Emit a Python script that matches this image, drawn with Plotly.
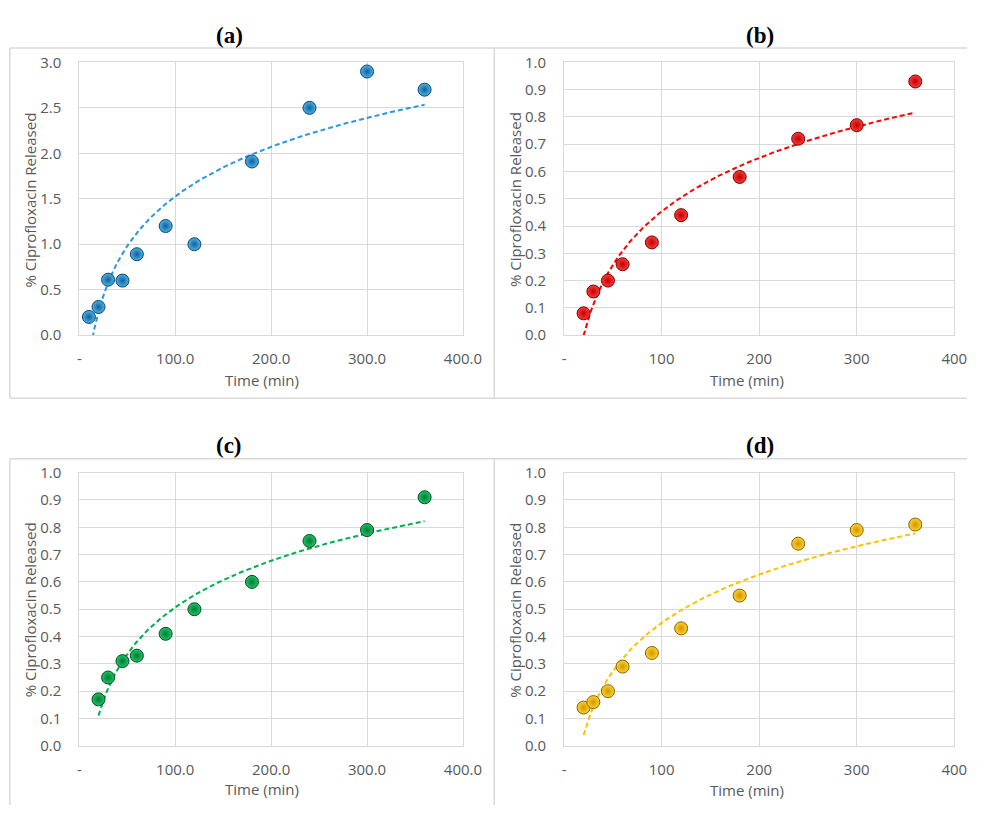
import numpy as np
import plotly.graph_objects as go

# ---------------- data ----------------
time_a = [10, 20, 30, 45, 60, 90, 120, 180, 240, 300, 360]
release_a = [0.20, 0.31, 0.61, 0.60, 0.89, 1.20, 1.00, 1.91, 2.50, 2.90, 2.70]

time_b = [20, 30, 45, 60, 90, 120, 180, 240, 300, 360]
release_b = [0.08, 0.16, 0.20, 0.26, 0.34, 0.44, 0.58, 0.72, 0.77, 0.93]

time_c = [20, 30, 45, 60, 90, 120, 180, 240, 300, 360]
release_c = [0.17, 0.25, 0.31, 0.33, 0.41, 0.50, 0.60, 0.75, 0.79, 0.91]

time_d = [20, 30, 45, 60, 90, 120, 180, 240, 300, 360]
release_d = [0.14, 0.16, 0.20, 0.29, 0.34, 0.43, 0.55, 0.74, 0.79, 0.81]

panel_titles = ["(a)", "(b)", "(c)", "(d)"]
x_tickvals = [0, 100, 200, 300, 400]
x_ticktext_decimal = ["-", "100.0", "200.0", "300.0", "400.0"]
x_ticktext_int = ["-", "100", "200", "300", "400"]
x_title = "Time (min)"
y_title = "% Ciprofloxacin Released"

# ---------------- layout helpers ----------------
W, H = 986, 814


def px_x(v):
    return v / W


def px_y(v):
    return 1 - v / H


FONT = "Open Sans"
GRAY_TXT = "#595959"
GRID = "#d9d9d9"

panels = [
    dict(x=time_a, y=release_a, ymax=3.0, dy=0.5, xt=x_ticktext_decimal,
         dom_x=(79, 471), dom_y=(52.7, 332.3),
         mcol="#4cb2ea", mgrad="#125f96", mline="#0b4670", lcol="#2b98d8",
         title_pos=(232, 25), xt_pos=(266, 378), yt_pos=(29, 194)),
    dict(x=time_b, y=release_b, ymax=1.0, dy=0.1, xt=x_ticktext_int,
         dom_x=(574.3, 973), dom_y=(52.7, 332.3),
         mcol="#ff3a3a", mgrad="#c00000", mline="#7a0000", lcol="#ff0000",
         title_pos=(774, 25), xt_pos=(761, 378), yt_pos=(524, 193)),
    dict(x=time_c, y=release_c, ymax=1.0, dy=0.1, xt=x_ticktext_decimal,
         dom_x=(79, 471), dom_y=(473.3, 753.3),
         mcol="#22c466", mgrad="#007a36", mline="#004d22", lcol="#00b050",
         title_pos=(232, 445), xt_pos=(266, 798), yt_pos=(29, 614)),
    dict(x=time_d, y=release_d, ymax=1.0, dy=0.1, xt=x_ticktext_int,
         dom_x=(574.3, 973), dom_y=(473.3, 753.3),
         mcol="#ffd230", mgrad="#d09600", mline="#8a6300", lcol="#ffc000",
         title_pos=(774, 445), xt_pos=(761, 799), yt_pos=(524, 614)),
]

fig = go.Figure()
annotations = []
layout_axes = {}

for i, p in enumerate(panels):
    n = "" if i == 0 else str(i + 1)
    xa, ya = "x" + n, "y" + n
    # logarithmic trendline (least squares on ln x), as drawn by the spreadsheet
    xs = np.array(p["x"], dtype=float)
    ys = np.array(p["y"], dtype=float)
    slope, intercept = np.polyfit(np.log(xs), ys, 1)
    xt = np.linspace(xs.min(), xs.max(), 300)
    yt = slope * np.log(xt) + intercept
    fig.add_trace(go.Scatter(
        x=xt, y=yt, mode="lines", xaxis=xa, yaxis=ya, showlegend=False,
        line=dict(color=p["lcol"], width=2, dash="5px,3px"), hoverinfo="skip"))
    fig.add_trace(go.Scatter(
        x=p["x"], y=p["y"], mode="markers", xaxis=xa, yaxis=ya, showlegend=False,
        marker=dict(size=13, color=p["mcol"],
                    gradient=dict(type="radial", color=p["mgrad"]),
                    line=dict(color=p["mline"], width=1))))

    layout_axes["xaxis" + n] = dict(
        domain=[px_x(p["dom_x"][0]), px_x(p["dom_x"][1])],
        anchor=ya, range=[0, 400], tickvals=x_tickvals, ticktext=p["xt"],
        showgrid=True, gridcolor=GRID, gridwidth=1, zeroline=False,
        showline=True, linecolor=GRID, linewidth=1, mirror=True,
        tickfont=dict(family=FONT, size=15, color=GRAY_TXT),
        ticks="", ticklabelstandoff=10, fixedrange=True)
    layout_axes["yaxis" + n] = dict(
        domain=[px_y(p["dom_y"][1]), px_y(p["dom_y"][0])],
        anchor=xa, range=[0, p["ymax"]], dtick=p["dy"], tick0=0, tickformat=".1f",
        showgrid=True, gridcolor=GRID, gridwidth=1, zeroline=False,
        showline=True, linecolor=GRID, linewidth=1, mirror=True,
        tickfont=dict(family=FONT, size=15, color=GRAY_TXT),
        ticks="", ticklabelstandoff=14, fixedrange=True)

    annotations.append(dict(
        text="<b>" + panel_titles[i] + "</b>", xref="paper", yref="paper",
        x=px_x(p["title_pos"][0]), y=px_y(p["title_pos"][1]),
        xanchor="center", yanchor="middle", showarrow=False,
        font=dict(family="Liberation Serif", size=23, color="#000000")))
    annotations.append(dict(
        text=x_title, xref="paper", yref="paper",
        x=px_x(p["xt_pos"][0]), y=px_y(p["xt_pos"][1]),
        xanchor="center", yanchor="middle", showarrow=False,
        font=dict(family=FONT, size=15, color=GRAY_TXT)))
    annotations.append(dict(
        text=y_title, xref="paper", yref="paper", textangle=-90,
        x=px_x(p["yt_pos"][0]), y=px_y(p["yt_pos"][1]),
        xanchor="center", yanchor="middle", showarrow=False,
        font=dict(family=FONT, size=15, color=GRAY_TXT)))

# chart-area borders
shapes = []
for (x0, y0, x1, y1) in [
    (8, 38, 986, 38), (8, 397, 986, 397), (8, 38, 8, 397), (503, 38, 503, 397),
    (8, 459, 986, 459), (8, 459, 8, 814), (503, 459, 503, 814),
]:
    shapes.append(dict(type="line", xref="paper", yref="paper",
                       x0=px_x(x0), y0=px_y(y0), x1=px_x(x1), y1=px_y(y1),
                       line=dict(color=GRID, width=1.5)))

fig.update_layout(
    autosize=True,
    margin=dict(l=0, r=0, t=0, b=0),
    paper_bgcolor="white", plot_bgcolor="white",
    annotations=annotations, shapes=shapes,
    **layout_axes)

fig.write_html(
    "out.html",
    config={"displayModeBar": False, "responsive": True},
    default_width="100vw",
    default_height="100vh",
    post_script=(
        "document.documentElement.style.margin='0';"
        "document.documentElement.style.overflow='hidden';"
        "document.body.style.margin='0';"
        "document.body.style.padding='0';"
        "document.body.style.overflow='hidden';"
        "var gd=document.getElementById('{plot_id}');"
        "gd.style.position='fixed';gd.style.left='0px';gd.style.top='0px';"
        "gd.style.width='100vw';gd.style.height='100vh';"
        "Plotly.Plots.resize(gd);"
    ),
)
